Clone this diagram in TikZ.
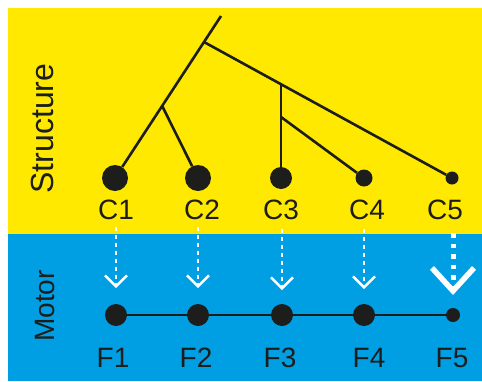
\documentclass[tikz,border=0pt]{standalone}
\usepackage{fontspec}
\setmainfont{Liberation Sans}
\usetikzlibrary{arrows.meta,calc}
\definecolor{ylw}{HTML}{FFE900}
\definecolor{cyanbg}{HTML}{009FE3}
\definecolor{dark}{HTML}{1D1D1B}
\begin{document}
\begin{tikzpicture}[x=1pt,y=-1pt,
  dot/.style={circle,fill=dark,inner sep=0pt,minimum size=#1},
  lbl/.style={font=\fontsize{28}{28}\selectfont,text=dark,anchor=base,inner sep=0pt},
  side/.style={font=\fontsize{#1}{#1}\selectfont,text=dark,rotate=90,anchor=base,inner sep=0pt},
  tree/.style={draw=dark,line width=2.6pt},
  chain/.style={draw=dark,line width=2.2pt},
  smallarrow/.style={draw=white,line width=2pt,dash pattern=on 4pt off 4pt,
     -{Straight Barb[length=11pt,width=22pt,line width=2.4pt]}},
  bigarrow/.style={draw=white,line width=5pt,dash pattern=on 4.5pt off 6pt,
     -{Straight Barb[length=23pt,width=42pt,line width=5.5pt]}}
]
\useasboundingbox (0,0) rectangle (482,381);
\fill[ylw] (8,8) rectangle (482,234);
\fill[cyanbg] (8,234) rectangle (482,381);

% side labels
\node[side=32] (structure) at (53,128.5) {Structure};
\node[side=28] (motor) at (54,306) {Motor};

% structure circles
\node[dot=26pt] (c1) at (115,178) {};
\node[dot=26pt] (c2) at (198,178) {};
\node[dot=22pt] (c3) at (281,178) {};
\node[dot=17pt] (c4) at (364,178) {};
\node[dot=13pt] (c5) at (452,178) {};

% tree
\coordinate (root) at (221,16);
\coordinate (j1) at (204,42);
\coordinate (j2) at ($(j1)!0.47!(c1)$);
\coordinate (j3) at ($(j1)!0.312!(c5)$);
\coordinate (j4) at (281,117);
\draw[tree] (root) -- (j1) -- (c1);
\draw[tree] (j2) -- (c2);
\draw[tree] (j1) -- (c5);
\draw[tree] (c3 |- j3) -- (c3);
\draw[tree] (j4) -- (c4);

% C labels
\node[lbl] (lc1) at (116,219.5) {C1};
\node[lbl] (lc2) at (202,219.5) {C2};
\node[lbl] (lc3) at (281,219.5) {C3};
\node[lbl] (lc4) at (367,219.5) {C4};
\node[lbl] (lc5) at (445,219.5) {C5};

% motor chain
\node[dot=22pt] (f1) at (116,315) {};
\node[dot=22pt] (f2) at (198,315) {};
\node[dot=22pt] (f3) at (282,315) {};
\node[dot=22pt] (f4) at (364,315) {};
\node[dot=14pt] (f5) at (453,315) {};
\draw[chain] (f1) -- (f2) -- (f3) -- (f4) -- (f5);

% F labels
\node[lbl] (lf1) at (113,367) {F1};
\node[lbl] (lf2) at (196,367) {F2};
\node[lbl] (lf3) at (280,367) {F3};
\node[lbl] (lf4) at (369,367) {F4};
\node[lbl] (lf5) at (452,367) {F5};

% arrows
\coordinate (s1) at (116,227); \coordinate (t1) at (116,288);
\coordinate (s2) at (198,227); \coordinate (t2) at (198,288);
\coordinate (s3) at (282,229); \coordinate (t3) at (282,290);
\coordinate (s4) at (364,229); \coordinate (t4) at (364,289);
\coordinate (s5) at (453,233); \coordinate (t5) at (453,295);
\draw[smallarrow] (s1) -- (t1);
\draw[smallarrow] (s2) -- (t2);
\draw[smallarrow] (s3) -- (t3);
\draw[smallarrow] (s4) -- (t4);
\draw[bigarrow] (s5) -- (t5);
\end{tikzpicture}
\end{document}
